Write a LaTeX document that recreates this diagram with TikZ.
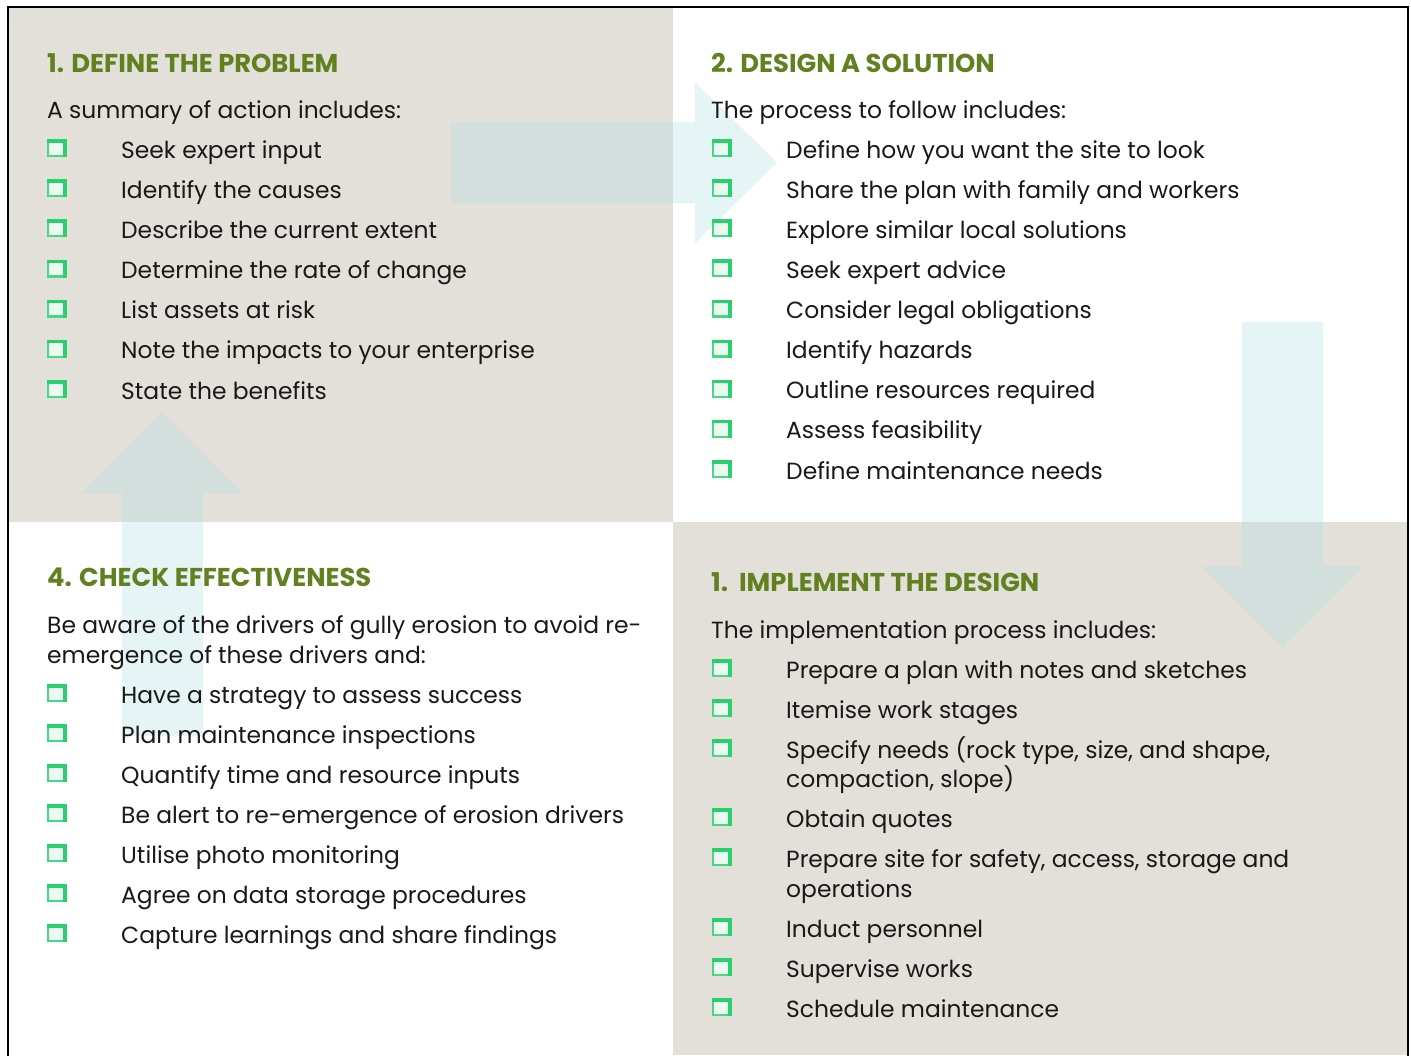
\documentclass[tikz,border=0pt]{standalone}
\usepackage{fontspec}
\setmainfont{Poppins}
\definecolor{beige}{RGB}{227,224,218}
\definecolor{headgreen}{RGB}{97,128,32}
\definecolor{boxgreen}{RGB}{40,208,110}
\definecolor{arrowc}{RGB}{172,222,225}
\definecolor{txt}{RGB}{25,25,25}
\tikzset{
  body/.style={anchor=base west, inner sep=0pt, font=\fontsize{23.4}{28}\selectfont, text=txt},
  head/.style={anchor=base west, inner sep=0pt, font=\fontsize{25.8}{30}\selectfont\bfseries, text=headgreen},
  flow/.style={fill=arrowc, fill opacity=0.3, draw=none},
  cbox/.pic={
    \fill[boxgreen!10] (0,0) rectangle (20,18);
    \draw[boxgreen!85, line width=2.2pt] (1.1,1.1) rectangle (18.9,16.9);
    \fill[boxgreen] (0,0) rectangle (20,3.6);
    \fill[boxgreen] (16.4,0) rectangle (20,18);
  }
}
\begin{document}
\begin{tikzpicture}[x=1pt,y=-1pt]
\useasboundingbox (0,0) rectangle (1411,1055);
% backgrounds
\fill[white] (0,0) rectangle (1411,1055);
\fill[beige] (9,8) rectangle (673,522);
\fill[beige] (673,522) rectangle (1407,1055);
\draw[line width=2.4pt] (7.8,1056) -- (7.8,6.9) -- (1408.2,6.9) -- (1408.2,1056);
% flow arrows
\fill[flow] (451,122) -- (695,122) -- (695,82) -- (777,162.5) -- (695,243) -- (695,203) -- (451,203) -- cycle;
\fill[flow] (1242,322) -- (1323,322) -- (1323,566) -- (1363,566) -- (1282.5,647) -- (1202,566) -- (1242,566) -- cycle;
\fill[flow] (122,736) -- (122,493) -- (82,493) -- (162.5,412) -- (243,493) -- (203,493) -- (203,736) -- cycle;

% ---- top left
\node[head] (tlh) at (47,72) {1. DEFINE THE PROBLEM};
\node[body] (tli) at (47,118.5) {A summary of action includes:};
\foreach \t [count=\i from 0] in {Seek expert input, Identify the causes, Describe the current extent, Determine the rate of change, List assets at risk, Note the impacts to your enterprise, State the benefits}{
  \pic at (47,{139+40.17*\i}) {cbox};
  \node[body] (tl-\i) at (121,{158+40.17*\i}) {\t};
}

% ---- top right
\node[head] (trh) at (711,72) {2. DESIGN A SOLUTION};
\node[body] (tri) at (711,118.5) {The process to follow includes:};
\foreach \t [count=\i from 0] in {Define how you want the site to look, Share the plan with family and workers, Explore similar local solutions, Seek expert advice, Consider legal obligations, Identify hazards, Outline resources required, Assess feasibility, Define maintenance needs}{
  \pic at (712,{139+40.125*\i}) {cbox};
  \node[body] (tr-\i) at (786,{158+40.125*\i}) {\t};
}

% ---- bottom left
\node[head] (blh) at (47,586) {4. CHECK EFFECTIVENESS};
\node[body] (bli) at (47,633) {Be aware of the drivers of gully erosion to avoid re-};
\node[body] (bli2) at (47,663) {emergence of these drivers and:};
\foreach \t [count=\i from 0] in {Have a strategy to assess success, Plan maintenance inspections, Quantify time and resource inputs, Be alert to re-emergence of erosion drivers, Utilise photo monitoring, Agree on data storage procedures, Capture learnings and share findings}{
  \pic at (47,{684+40*\i}) {cbox};
  \node[body] (bl-\i) at (121,{703+40*\i}) {\t};
}

% ---- bottom right
\node[head] (brh) at (711,591) {1.\ \ IMPLEMENT THE DESIGN};
\node[body] (bri) at (711,638) {The implementation process includes:};
\foreach \t/\y [count=\i from 0] in {Prepare a plan with notes and sketches/678, Itemise work stages/718, {Specify needs (rock type, size, and shape,}/758, Obtain quotes/827, {Prepare site for safety, access, storage and}/867, Induct personnel/937, Supervise works/977, Schedule maintenance/1017}{
  \pic at (712,{\y-19}) {cbox};
  \node[body] (br-\i) at (786,\y) {\t};
}
\node[body] (br-2b) at (786,787) {compaction, slope)};
\node[body] (br-4b) at (786,897) {operations};
\end{tikzpicture}
\end{document}
